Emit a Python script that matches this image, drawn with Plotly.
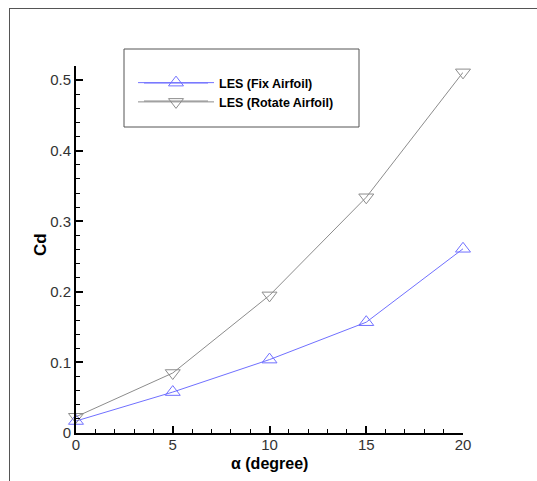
import plotly.graph_objects as go

alpha = [0, 5, 10, 15, 20]
cd_fix = [0.017, 0.058, 0.104, 0.157, 0.261]
cd_rotate = [0.023, 0.085, 0.195, 0.334, 0.511]
series_names = ["LES (Fix Airfoil)", "LES (Rotate Airfoil)"]
colors = ["#7070ff", "#8c8c8c"]

W, H = 537, 481
L, R, T, B = 76, 74, 66, 48
pw, ph = W - L - R, H - T - B

def px(x):
    return (x - L) / pw

def py(y):
    return (H - B - y) / ph

FONT = "Liberation Sans, Arial, sans-serif"

fig = go.Figure()
fig.add_trace(go.Scatter(
    x=alpha, y=cd_fix, name=series_names[0], mode="lines+markers",
    line=dict(color=colors[0], width=1),
    marker=dict(symbol="triangle-up-open", size=13, color=colors[0], line=dict(width=1)),
    cliponaxis=False,
))
fig.add_trace(go.Scatter(
    x=alpha, y=cd_rotate, name=series_names[1], mode="lines+markers",
    line=dict(color=colors[1], width=1),
    marker=dict(symbol="triangle-down-open", size=13, color=colors[1], line=dict(width=1)),
    cliponaxis=False,
))

shapes = [
    dict(type="rect", xref="paper", yref="paper",
         x0=px(124), x1=px(359), y0=py(127), y1=py(49),
         line=dict(color="#555555", width=1)),
    dict(type="line", xref="paper", yref="paper",
         x0=px(9), x1=px(537), y0=py(8.5), y1=py(8.5),
         line=dict(color="#555555", width=1)),
    dict(type="line", xref="paper", yref="paper",
         x0=px(9.5), x1=px(9.5), y0=py(8), y1=py(481),
         line=dict(color="#555555", width=1)),
]
for c, yy in zip(colors, [83, 101]):
    shapes.append(dict(type="line", xref="paper", yref="paper",
                       x0=px(144), x1=px(208), y0=py(yy), y1=py(yy),
                       line=dict(color=c, width=1)))

fig.update_layout(
    width=W, height=H,
    margin=dict(l=L, r=R, t=T, b=B),
    paper_bgcolor="white", plot_bgcolor="white",
    font=dict(family=FONT, size=15, color="#333333"),
    showlegend=True,
    legend=dict(
        x=px(133), y=py(68), xanchor="left", yanchor="top",
        bgcolor="rgba(0,0,0,0)", borderwidth=0,
        font=dict(family=FONT, size=12.5, color="#000000", weight="bold"),
        tracegroupgap=0, itemwidth=76,
    ),
    xaxis=dict(
        range=[0, 20], tickmode="linear", tick0=0, dtick=5, showgrid=False, zeroline=False,
        showline=True, linecolor="black", linewidth=2,
        ticks="inside", ticklen=7, tickwidth=2, tickcolor="black",
        minor=dict(tickmode="linear", dtick=1, ticks="inside", ticklen=4, tickwidth=1, tickcolor="black", showgrid=False),
        tickfont=dict(size=15, color="#333333"), ticklabelstandoff=-3,
    ),
    yaxis=dict(
        range=[0, 0.52], tickmode="linear", tick0=0, dtick=0.1, showgrid=False, zeroline=False,
        showline=True, linecolor="black", linewidth=2,
        ticks="inside", ticklen=7, tickwidth=2, tickcolor="black",
        minor=dict(tickmode="linear", dtick=0.02, ticks="inside", ticklen=4, tickwidth=1, tickcolor="black", showgrid=False),
        tickfont=dict(size=15, color="#333333"),
    ),
    annotations=[
        dict(text="α (degree)", xref="paper", yref="paper", x=px(269), y=py(453),
             xanchor="center", yanchor="top", showarrow=False,
             font=dict(size=16, color="#000000", weight="bold")),
        dict(text="Cd", xref="paper", yref="paper", x=px(40), y=py(245),
             xanchor="center", yanchor="middle", showarrow=False, textangle=-90,
             font=dict(size=17, color="#000000", weight="bold")),
    ],
    shapes=shapes,
)

fig.write_html("out.html")
